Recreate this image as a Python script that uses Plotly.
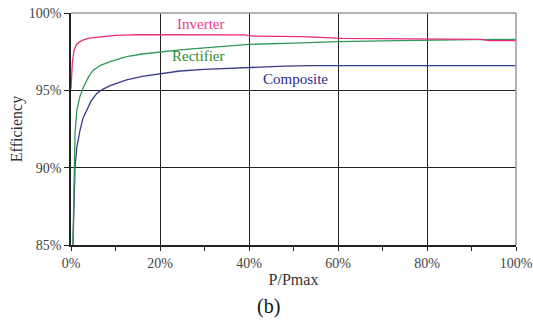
import plotly.graph_objects as go

inv_x = [0, 0.3, 0.7, 1.2, 2, 2.7, 4, 6.5, 10, 15, 20, 30, 39, 41, 52, 61, 80, 92, 94, 100]
inv_y = [95.1, 96.8, 97.6, 97.95, 98.15, 98.25, 98.38, 98.47, 98.55, 98.6, 98.6, 98.6, 98.58, 98.5, 98.47, 98.36, 98.32, 98.3, 98.21, 98.21]

rec_x = [0.4, 0.6, 0.9, 1.3, 2, 2.8, 4, 5, 6.5, 8.8, 12.5, 16, 20, 24.5, 30, 40, 50, 60, 70, 80, 90, 100]
rec_y = [84.5, 88, 92.2, 93.7, 94.6, 95.2, 95.9, 96.3, 96.6, 96.85, 97.18, 97.35, 97.5, 97.62, 97.75, 97.97, 98.05, 98.15, 98.2, 98.25, 98.28, 98.3]

com_x = [0.4, 0.7, 0.9, 1.3, 2, 2.7, 3.5, 4.5, 5.8, 7, 8.8, 12.5, 16, 20, 24.5, 30, 36, 42, 48, 54, 60, 80, 100]
com_y = [84.5, 88, 90, 91.3, 92.4, 93.2, 93.7, 94.3, 94.8, 95.05, 95.3, 95.67, 95.9, 96.06, 96.25, 96.35, 96.42, 96.53, 96.57, 96.6, 96.6, 96.6, 96.6]

x_ticks = [0, 20, 40, 60, 80, 100]
y_ticks = [85, 90, 95, 100]

pink = "#ee2a7b"
green = "#2e9a5a"
navy = "#3a3a8c"

fig = go.Figure()
fig.add_trace(go.Scatter(x=com_x, y=com_y, mode="lines", line=dict(color=navy, width=1.3)))
fig.add_trace(go.Scatter(x=rec_x, y=rec_y, mode="lines", line=dict(color=green, width=1.3)))
fig.add_trace(go.Scatter(x=inv_x, y=inv_y, mode="lines", line=dict(color=pink, width=1.3)))

font_family = "Liberation Serif"
fig.add_annotation(x=29.2, y=99.3, text="Inverter", showarrow=False, font=dict(color="#f0388a", size=15, family=font_family))
fig.add_annotation(x=28.5, y=97.2, text="Rectifier", showarrow=False, font=dict(color="#2e8b2e", size=15, family=font_family))
fig.add_annotation(x=50.5, y=95.75, text="Composite", showarrow=False, font=dict(color="#2b2b8f", size=15, family=font_family))

# top and right gray border
fig.add_shape(type="line", xref="paper", yref="paper", x0=0, x1=1, y0=1, y1=1, line=dict(color="#999999", width=1.5))
fig.add_shape(type="line", xref="paper", yref="paper", x0=1, x1=1, y0=0, y1=1, line=dict(color="#999999", width=1.5))

fig.update_layout(
    width=533, height=327,
    margin=dict(l=71, r=17, t=13, b=82),
    paper_bgcolor="white", plot_bgcolor="white",
    showlegend=False,
    font=dict(family=font_family, size=14, color="#444444"),
    xaxis=dict(
        range=[0, 100], tickvals=x_ticks, ticktext=[f"{v}%" for v in x_ticks],
        showgrid=True, gridcolor="#222222", gridwidth=1,
        showline=True, linecolor="#222222", linewidth=1.5,
        ticks="outside", ticklen=4, tickcolor="#222222",
        minor=dict(dtick=10, ticks="outside", ticklen=4, tickcolor="#222222", showgrid=False),
        zeroline=False, fixedrange=True, automargin=False,
        tickfont=dict(size=14, color="#444444"),
        title=dict(text="P/Pmax", font=dict(size=16, color="#333333"), standoff=4),
    ),
    yaxis=dict(
        range=[85, 100], tickvals=y_ticks, ticktext=[f"{v}%" for v in y_ticks],
        showgrid=True, gridcolor="#222222", gridwidth=1,
        showline=True, linecolor="#222222", linewidth=1.5,
        ticks="outside", ticklen=5, tickcolor="#222222",
        zeroline=False, fixedrange=True, automargin=False,
        tickfont=dict(size=14, color="#444444"),
        title=dict(text="Efficiency", font=dict(size=16, color="#333333"), standoff=2),
    ),
)

fig.add_annotation(xref="paper", yref="paper", x=0.443, y=-0.267, yanchor="middle", text="(b)", showarrow=False,
                   font=dict(size=20, color="#111111", family=font_family))

fig.write_html("out.html", config={"displayModeBar": False},
               post_script="document.body.style.margin='0';document.body.style.padding='0';")
